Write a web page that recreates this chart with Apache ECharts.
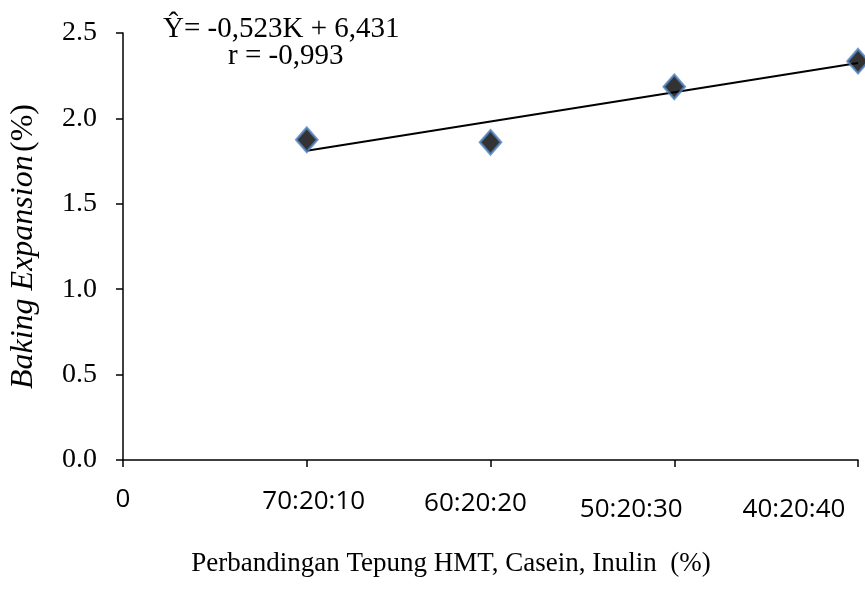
<!DOCTYPE html>
<html>
<head>
<meta charset="utf-8">
<script src="https://cdn.jsdelivr.net/npm/echarts@6/dist/echarts.min.js"></script>
<style>
  html, body { margin: 0; padding: 0; background: #fff; }
  #chart { width: 865px; height: 589px; }
</style>
</head>
<body>
<div id="chart"></div>
<script>
// data
const xLabels = ['0', '70:20:10', '60:20:20', '50:20:30', '40:20:40']
const pointX = [1, 2, 3, 4]
const pointY = [1.875, 1.86, 2.185, 2.335]
const trendX = [1, 4]
const trendY = [1.81, 2.325]
const yTicks = [0, 0.5, 1.0, 1.5, 2.0, 2.5]

const serif = '"Liberation Serif", "Times New Roman", serif'
const sans = '"Open Sans", "DejaVu Sans Condensed", sans-serif'

const chart = echarts.init(document.getElementById('chart'))

// the x labels in the original sit a bit off their ticks
let xRich = {}
const pads = [[0, 0, 0, 0], [2, 0, 0, 14], [4, 30, 0, 0], [10, 86, 0, 0], [10, 128, 0, 0]]
for (let i = 0; i < pads.length; i++) {
  xRich['l' + i] = { fontFamily: sans, fontSize: 26, color: '#000', padding: pads[i] }
}

let option = {
  animation: false,
  backgroundColor: '#fff',
  grid: { left: 123, right: 7, top: 33, bottom: 129, containLabel: false },
  xAxis: {
    type: 'value',
    min: 0,
    max: 4,
    interval: 1,
    name: 'Perbandingan Tepung HMT, Casein, Inulin  (%)',
    nameLocation: 'middle',
    nameGap: 90,
    nameTextStyle: { fontFamily: serif, fontSize: 27, color: '#000', padding: [0, 79, 0, 0] },
    axisLine: { onZero: false, lineStyle: { color: '#000', width: 1.5 } },
    axisTick: { show: true, length: 7, lineStyle: { color: '#000', width: 1.5 } },
    axisLabel: {
      margin: 27,
      formatter: function (v) {
        const i = Math.round(v)
        return '{l' + i + '|' + xLabels[i] + '}'
      },
      rich: xRich
    },
    splitLine: { show: false }
  },
  yAxis: {
    type: 'value',
    min: yTicks[0],
    max: yTicks[yTicks.length - 1],
    interval: 0.5,
    name: '{i|Baking Expansion} {n|(%)}',
    nameLocation: 'middle',
    nameRotate: 90,
    nameGap: 83,
    nameTextStyle: {
      rich: {
        i: { fontFamily: serif, fontSize: 32, fontStyle: 'italic', color: '#000' },
        n: { fontFamily: serif, fontSize: 32, color: '#000' }
      }
    },
    axisLine: { show: true, lineStyle: { color: '#000', width: 1.5 } },
    axisTick: { show: true, length: 7, lineStyle: { color: '#000', width: 1.5 } },
    axisLabel: {
      margin: 26,
      fontFamily: serif,
      fontSize: 28,
      color: '#000',
      formatter: function (v) { return v.toFixed(1) }
    },
    splitLine: { show: false }
  },
  graphic: [
    {
      type: 'text', left: 163, top: 15,
      style: { text: 'Ŷ= -0,523K + 6,431', font: '29px ' + serif, fill: '#000' }
    },
    {
      type: 'text', left: 228, top: 42,
      style: { text: 'r = -0,993', font: '29px ' + serif, fill: '#000' }
    }
  ],
  series: [
    {
      name: 'trend',
      type: 'line',
      data: trendX.map((x, i) => [x, trendY[i]]),
      symbol: 'none',
      lineStyle: { color: '#000', width: 2 },
      z: 2
    },
    {
      name: 'points',
      type: 'scatter',
      data: pointX.map((x, i) => [x, pointY[i]]),
      symbol: 'diamond',
      symbolSize: [21, 24],
      itemStyle: { color: '#000', borderColor: '#4F81BD', borderWidth: 2.5 },
      z: 3
    }
  ]
}

chart.setOption(option)
</script>
</body>
</html>
